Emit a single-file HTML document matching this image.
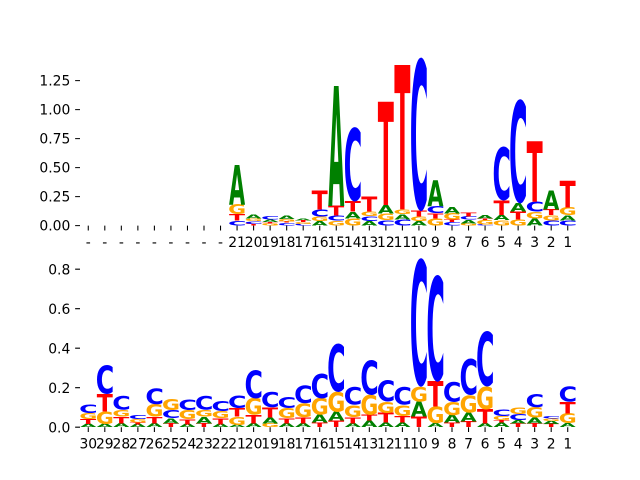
<!DOCTYPE html>
<html><head><meta charset="utf-8"><style>
html,body{margin:0;padding:0;background:#fff;}
svg{display:block;}
.a,.c,.g,.t{font-family:"DejaVu Sans","Liberation Sans",sans-serif;font-weight:bold;font-size:100px;}
.a{fill:#008000}.c{fill:#0000ff}.g{fill:#ffa500}.t{fill:#ff0000}
.lb{font-family:"DejaVu Sans","Liberation Sans",sans-serif;font-size:13.89px;fill:#000;}
</style></head><body>
<svg width="640" height="480" viewBox="0 0 640 480" xmlns="http://www.w3.org/2000/svg">
<rect width="640" height="480" fill="#fff"/>
<!-- ticks -->
<path stroke="#000" stroke-width="1.07" fill="none" d="
M88.27 225.6v4.86M104.8 225.6v4.86M121.33 225.6v4.86M137.87 225.6v4.86M154.4 225.6v4.86M170.93 225.6v4.86M187.47 225.6v4.86M204 225.6v4.86M220.53 225.6v4.86M237.07 225.6v4.86M253.6 225.6v4.86M270.13 225.6v4.86M286.67 225.6v4.86M303.2 225.6v4.86M319.73 225.6v4.86M336.27 225.6v4.86M352.8 225.6v4.86M369.33 225.6v4.86M385.87 225.6v4.86M402.4 225.6v4.86M418.93 225.6v4.86M435.47 225.6v4.86M452 225.6v4.86M468.53 225.6v4.86M485.07 225.6v4.86M501.6 225.6v4.86M518.13 225.6v4.86M534.67 225.6v4.86M551.2 225.6v4.86M567.73 225.6v4.86
M88.27 427.2v4.86M104.8 427.2v4.86M121.33 427.2v4.86M137.87 427.2v4.86M154.4 427.2v4.86M170.93 427.2v4.86M187.47 427.2v4.86M204 427.2v4.86M220.53 427.2v4.86M237.07 427.2v4.86M253.6 427.2v4.86M270.13 427.2v4.86M286.67 427.2v4.86M303.2 427.2v4.86M319.73 427.2v4.86M336.27 427.2v4.86M352.8 427.2v4.86M369.33 427.2v4.86M385.87 427.2v4.86M402.4 427.2v4.86M418.93 427.2v4.86M435.47 427.2v4.86M452 427.2v4.86M468.53 427.2v4.86M485.07 427.2v4.86M501.6 427.2v4.86M518.13 427.2v4.86M534.67 427.2v4.86M551.2 427.2v4.86M567.73 427.2v4.86
M75.14 225.6h4.86M75.14 196.6h4.86M75.14 167.6h4.86M75.14 138.6h4.86M75.14 109.6h4.86M75.14 80.6h4.86
M75.14 427.2h4.86M75.14 387.7h4.86M75.14 348.2h4.86M75.14 308.7h4.86M75.14 269.2h4.86"/>
<!-- y labels -->
<g class="lb" text-anchor="end">
<text x="70.3" y="230.7">0.00</text><text x="70.3" y="201.7">0.25</text><text x="70.3" y="172.7">0.50</text><text x="70.3" y="143.7">0.75</text><text x="70.3" y="114.7">1.00</text><text x="70.3" y="85.7">1.25</text>
<text x="70.3" y="432.3">0.0</text><text x="70.3" y="392.8">0.2</text><text x="70.3" y="353.3">0.4</text><text x="70.3" y="313.8">0.6</text><text x="70.3" y="274.3">0.8</text>
</g>
<!-- x labels top -->
<g class="lb" text-anchor="middle">
<text x="88.27" y="246.8">-</text><text x="104.8" y="246.8">-</text><text x="121.33" y="246.8">-</text><text x="137.87" y="246.8">-</text><text x="154.4" y="246.8">-</text><text x="170.93" y="246.8">-</text><text x="187.47" y="246.8">-</text><text x="204" y="246.8">-</text><text x="220.53" y="246.8">-</text>
<text x="237.07" y="246.8">21</text><text x="253.6" y="246.8">20</text><text x="270.13" y="246.8">19</text><text x="286.67" y="246.8">18</text><text x="303.2" y="246.8">17</text><text x="319.73" y="246.8">16</text><text x="336.27" y="246.8">15</text><text x="352.8" y="246.8">14</text><text x="369.33" y="246.8">13</text><text x="385.87" y="246.8">12</text><text x="402.4" y="246.8">11</text><text x="418.93" y="246.8">10</text><text x="435.47" y="246.8">9</text><text x="452" y="246.8">8</text><text x="468.53" y="246.8">7</text><text x="485.07" y="246.8">6</text><text x="501.6" y="246.8">5</text><text x="518.13" y="246.8">4</text><text x="534.67" y="246.8">3</text><text x="551.2" y="246.8">2</text><text x="567.73" y="246.8">1</text>
</g>
<!-- x labels bottom -->
<g class="lb" text-anchor="middle">
<text x="88.27" y="448.4">30</text><text x="104.8" y="448.4">29</text><text x="121.33" y="448.4">28</text><text x="137.87" y="448.4">27</text><text x="154.4" y="448.4">26</text><text x="170.93" y="448.4">25</text><text x="187.47" y="448.4">24</text><text x="204" y="448.4">23</text><text x="220.53" y="448.4">22</text>
<text x="237.07" y="448.4">21</text><text x="253.6" y="448.4">20</text><text x="270.13" y="448.4">19</text><text x="286.67" y="448.4">18</text><text x="303.2" y="448.4">17</text><text x="319.73" y="448.4">16</text><text x="336.27" y="448.4">15</text><text x="352.8" y="448.4">14</text><text x="369.33" y="448.4">13</text><text x="385.87" y="448.4">12</text><text x="402.4" y="448.4">11</text><text x="418.93" y="448.4">10</text><text x="435.47" y="448.4">9</text><text x="452" y="448.4">8</text><text x="468.53" y="448.4">7</text><text x="485.07" y="448.4">6</text><text x="501.6" y="448.4">5</text><text x="518.13" y="448.4">4</text><text x="534.67" y="448.4">3</text><text x="551.2" y="448.4">2</text><text x="567.73" y="448.4">1</text>
</g>

<!-- ===== TOP LOGO ===== -->
<!-- p21 -->
<svg x="229.22" y="220.7" width="15.71" height="4.9" viewBox="4.9 -74.2 62.3 75.6" preserveAspectRatio="none" overflow="visible"><text class="c">C</text></svg>
<svg x="229.22" y="214" width="15.71" height="6.7" viewBox="1 -72.9 66.7 72.9" preserveAspectRatio="none" overflow="visible"><text class="t">T</text></svg>
<svg x="229.22" y="204.3" width="15.71" height="9.7" viewBox="4.9 -74.2 71.7 75.6" preserveAspectRatio="none" overflow="visible"><text class="g">G</text></svg>
<svg x="229.22" y="165" width="15.71" height="39.3" viewBox="1 -72.9 75.4 72.9" preserveAspectRatio="none" overflow="visible"><text class="a">A</text></svg>
<!-- p20 -->
<svg x="245.75" y="223.9" width="15.71" height="1.7" viewBox="1 -72.9 66.7 72.9" preserveAspectRatio="none" overflow="visible"><text class="t">T</text></svg>
<svg x="245.75" y="221" width="15.71" height="2.9" viewBox="4.9 -74.2 62.3 75.6" preserveAspectRatio="none" overflow="visible"><text class="c">C</text></svg>
<svg x="245.75" y="218.6" width="15.71" height="2.4" viewBox="4.9 -74.2 71.7 75.6" preserveAspectRatio="none" overflow="visible"><text class="g">G</text></svg>
<svg x="245.75" y="214.6" width="15.71" height="4" viewBox="1 -72.9 75.4 72.9" preserveAspectRatio="none" overflow="visible"><text class="a">A</text></svg>
<!-- p19 -->
<svg x="262.28" y="223.3" width="15.71" height="2.3" viewBox="4.9 -74.2 71.7 75.6" preserveAspectRatio="none" overflow="visible"><text class="g">G</text></svg>
<svg x="262.28" y="222.1" width="15.71" height="1.2" viewBox="1 -72.9 66.7 72.9" preserveAspectRatio="none" overflow="visible"><text class="t">T</text></svg>
<svg x="262.28" y="219.8" width="15.71" height="2.3" viewBox="1 -72.9 75.4 72.9" preserveAspectRatio="none" overflow="visible"><text class="a">A</text></svg>
<svg x="262.28" y="216.7" width="15.71" height="3.1" viewBox="4.9 -74.2 62.3 75.6" preserveAspectRatio="none" overflow="visible"><text class="c">C</text></svg>
<!-- p18 -->
<svg x="278.82" y="222.7" width="15.71" height="2.9" viewBox="4.9 -74.2 62.3 75.6" preserveAspectRatio="none" overflow="visible"><text class="c">C</text></svg>
<svg x="278.82" y="221.5" width="15.71" height="1.2" viewBox="1 -72.9 66.7 72.9" preserveAspectRatio="none" overflow="visible"><text class="t">T</text></svg>
<svg x="278.82" y="219.2" width="15.71" height="2.3" viewBox="4.9 -74.2 71.7 75.6" preserveAspectRatio="none" overflow="visible"><text class="g">G</text></svg>
<svg x="278.82" y="215.7" width="15.71" height="3.5" viewBox="1 -72.9 75.4 72.9" preserveAspectRatio="none" overflow="visible"><text class="a">A</text></svg>
<!-- p17 -->
<svg x="295.35" y="223.9" width="15.71" height="1.7" viewBox="4.9 -74.2 62.3 75.6" preserveAspectRatio="none" overflow="visible"><text class="c">C</text></svg>
<svg x="295.35" y="222.1" width="15.71" height="1.8" viewBox="4.9 -74.2 71.7 75.6" preserveAspectRatio="none" overflow="visible"><text class="g">G</text></svg>
<svg x="295.35" y="220.4" width="15.71" height="1.7" viewBox="1 -72.9 66.7 72.9" preserveAspectRatio="none" overflow="visible"><text class="t">T</text></svg>
<svg x="295.35" y="218.3" width="15.71" height="2.1" viewBox="1 -72.9 75.4 72.9" preserveAspectRatio="none" overflow="visible"><text class="a">A</text></svg>
<!-- p16 -->
<svg x="311.88" y="221" width="15.71" height="4.6" viewBox="1 -72.9 75.4 72.9" preserveAspectRatio="none" overflow="visible"><text class="a">A</text></svg>
<svg x="311.88" y="216.7" width="15.71" height="4.3" viewBox="4.9 -74.2 71.7 75.6" preserveAspectRatio="none" overflow="visible"><text class="g">G</text></svg>
<svg x="311.88" y="209.4" width="15.71" height="7.3" viewBox="4.9 -74.2 62.3 75.6" preserveAspectRatio="none" overflow="visible"><text class="c">C</text></svg>
<svg x="311.88" y="190.8" width="15.71" height="18.6" viewBox="1 -72.9 66.7 72.9" preserveAspectRatio="none" overflow="visible"><text class="t">T</text></svg>
<!-- p15 -->
<svg x="328.42" y="220.7" width="15.71" height="4.9" viewBox="4.9 -74.2 71.7 75.6" preserveAspectRatio="none" overflow="visible"><text class="g">G</text></svg>
<svg x="328.42" y="215.7" width="15.71" height="5" viewBox="4.9 -74.2 62.3 75.6" preserveAspectRatio="none" overflow="visible"><text class="c">C</text></svg>
<svg x="328.42" y="206" width="15.71" height="9.7" viewBox="1 -72.9 66.7 72.9" preserveAspectRatio="none" overflow="visible"><text class="t">T</text></svg>
<svg x="328.42" y="86" width="15.71" height="120" viewBox="1 -72.9 75.4 72.9" preserveAspectRatio="none" overflow="visible"><text class="a">A</text></svg>
<!-- p14 -->
<svg x="344.95" y="218.3" width="15.71" height="7.3" viewBox="4.9 -74.2 71.7 75.6" preserveAspectRatio="none" overflow="visible"><text class="g">G</text></svg>
<svg x="344.95" y="211.7" width="15.71" height="6.6" viewBox="1 -72.9 75.4 72.9" preserveAspectRatio="none" overflow="visible"><text class="a">A</text></svg>
<svg x="344.95" y="201.2" width="15.71" height="10.5" viewBox="1 -72.9 66.7 72.9" preserveAspectRatio="none" overflow="visible"><text class="t">T</text></svg>
<svg x="344.95" y="126.7" width="15.71" height="74.5" viewBox="4.9 -74.2 62.3 75.6" preserveAspectRatio="none" overflow="visible"><text class="c">C</text></svg>
<!-- p13 -->
<svg x="361.48" y="221" width="15.71" height="4.6" viewBox="1 -72.9 75.4 72.9" preserveAspectRatio="none" overflow="visible"><text class="a">A</text></svg>
<svg x="361.48" y="216.3" width="15.71" height="4.7" viewBox="4.9 -74.2 62.3 75.6" preserveAspectRatio="none" overflow="visible"><text class="c">C</text></svg>
<svg x="361.48" y="211.7" width="15.71" height="4.6" viewBox="4.9 -74.2 71.7 75.6" preserveAspectRatio="none" overflow="visible"><text class="g">G</text></svg>
<svg x="361.48" y="196.6" width="15.71" height="15.1" viewBox="1 -72.9 66.7 72.9" preserveAspectRatio="none" overflow="visible"><text class="t">T</text></svg>
<!-- p12 -->
<svg x="378.02" y="220" width="15.71" height="5.6" viewBox="4.9 -74.2 62.3 75.6" preserveAspectRatio="none" overflow="visible"><text class="c">C</text></svg>
<svg x="378.02" y="213.3" width="15.71" height="6.7" viewBox="4.9 -74.2 71.7 75.6" preserveAspectRatio="none" overflow="visible"><text class="g">G</text></svg>
<svg x="378.02" y="205" width="15.71" height="8.3" viewBox="1 -72.9 75.4 72.9" preserveAspectRatio="none" overflow="visible"><text class="a">A</text></svg>
<svg x="378.02" y="101.7" width="15.71" height="103.3" viewBox="1 -72.9 66.7 72.9" preserveAspectRatio="none" overflow="visible"><text class="t">T</text></svg>
<!-- p11 -->
<svg x="394.55" y="219.3" width="15.71" height="6.3" viewBox="4.9 -74.2 62.3 75.6" preserveAspectRatio="none" overflow="visible"><text class="c">C</text></svg>
<svg x="394.55" y="214" width="15.71" height="5.3" viewBox="1 -72.9 75.4 72.9" preserveAspectRatio="none" overflow="visible"><text class="a">A</text></svg>
<svg x="394.55" y="209.4" width="15.71" height="4.6" viewBox="4.9 -74.2 71.7 75.6" preserveAspectRatio="none" overflow="visible"><text class="g">G</text></svg>
<svg x="394.55" y="65" width="15.71" height="144.4" viewBox="1 -72.9 66.7 72.9" preserveAspectRatio="none" overflow="visible"><text class="t">T</text></svg>
<!-- p10 -->
<svg x="411.08" y="221" width="15.71" height="4.6" viewBox="1 -72.9 75.4 72.9" preserveAspectRatio="none" overflow="visible"><text class="a">A</text></svg>
<svg x="411.08" y="216.7" width="15.71" height="4.3" viewBox="4.9 -74.2 71.7 75.6" preserveAspectRatio="none" overflow="visible"><text class="g">G</text></svg>
<svg x="411.08" y="211" width="15.71" height="5.7" viewBox="1 -72.9 66.7 72.9" preserveAspectRatio="none" overflow="visible"><text class="t">T</text></svg>
<svg x="411.08" y="57.6" width="15.71" height="153.4" viewBox="4.9 -74.2 62.3 75.6" preserveAspectRatio="none" overflow="visible"><text class="c">C</text></svg>
<!-- p9 -->
<svg x="427.62" y="218.3" width="15.71" height="7.3" viewBox="4.9 -74.2 71.7 75.6" preserveAspectRatio="none" overflow="visible"><text class="g">G</text></svg>
<svg x="427.62" y="213.3" width="15.71" height="5" viewBox="1 -72.9 66.7 72.9" preserveAspectRatio="none" overflow="visible"><text class="t">T</text></svg>
<svg x="427.62" y="206" width="15.71" height="7.3" viewBox="4.9 -74.2 62.3 75.6" preserveAspectRatio="none" overflow="visible"><text class="c">C</text></svg>
<svg x="427.62" y="180" width="15.71" height="26" viewBox="1 -72.9 75.4 72.9" preserveAspectRatio="none" overflow="visible"><text class="a">A</text></svg>
<!-- p8 -->
<svg x="444.15" y="222.1" width="15.71" height="3.5" viewBox="4.9 -74.2 62.3 75.6" preserveAspectRatio="none" overflow="visible"><text class="c">C</text></svg>
<svg x="444.15" y="219.8" width="15.71" height="2.3" viewBox="1 -72.9 66.7 72.9" preserveAspectRatio="none" overflow="visible"><text class="t">T</text></svg>
<svg x="444.15" y="213.4" width="15.71" height="6.4" viewBox="4.9 -74.2 71.7 75.6" preserveAspectRatio="none" overflow="visible"><text class="g">G</text></svg>
<svg x="444.15" y="206.7" width="15.71" height="6.7" viewBox="1 -72.9 75.4 72.9" preserveAspectRatio="none" overflow="visible"><text class="a">A</text></svg>
<!-- p7 -->
<svg x="460.68" y="223.3" width="15.71" height="2.3" viewBox="4.9 -74.2 71.7 75.6" preserveAspectRatio="none" overflow="visible"><text class="g">G</text></svg>
<svg x="460.68" y="219.8" width="15.71" height="3.5" viewBox="1 -72.9 75.4 72.9" preserveAspectRatio="none" overflow="visible"><text class="a">A</text></svg>
<svg x="460.68" y="216.7" width="15.71" height="3.1" viewBox="4.9 -74.2 62.3 75.6" preserveAspectRatio="none" overflow="visible"><text class="c">C</text></svg>
<svg x="460.68" y="212.8" width="15.71" height="3.9" viewBox="1 -72.9 66.7 72.9" preserveAspectRatio="none" overflow="visible"><text class="t">T</text></svg>
<!-- p6 -->
<svg x="477.22" y="224.4" width="15.71" height="1.2" viewBox="4.9 -74.2 62.3 75.6" preserveAspectRatio="none" overflow="visible"><text class="c">C</text></svg>
<svg x="477.22" y="219.8" width="15.71" height="4.6" viewBox="4.9 -74.2 71.7 75.6" preserveAspectRatio="none" overflow="visible"><text class="g">G</text></svg>
<svg x="477.22" y="218.3" width="15.71" height="1.5" viewBox="1 -72.9 66.7 72.9" preserveAspectRatio="none" overflow="visible"><text class="t">T</text></svg>
<svg x="477.22" y="215.2" width="15.71" height="3.1" viewBox="1 -72.9 75.4 72.9" preserveAspectRatio="none" overflow="visible"><text class="a">A</text></svg>
<!-- p5 -->
<svg x="493.75" y="220" width="15.71" height="5.6" viewBox="4.9 -74.2 71.7 75.6" preserveAspectRatio="none" overflow="visible"><text class="g">G</text></svg>
<svg x="493.75" y="215" width="15.71" height="5" viewBox="1 -72.9 75.4 72.9" preserveAspectRatio="none" overflow="visible"><text class="a">A</text></svg>
<svg x="493.75" y="200.7" width="15.71" height="14.3" viewBox="1 -72.9 66.7 72.9" preserveAspectRatio="none" overflow="visible"><text class="t">T</text></svg>
<svg x="493.75" y="146.7" width="15.71" height="54" viewBox="4.9 -74.2 62.3 75.6" preserveAspectRatio="none" overflow="visible"><text class="c">C</text></svg>
<!-- p4 -->
<svg x="510.28" y="219.3" width="15.71" height="6.3" viewBox="4.9 -74.2 71.7 75.6" preserveAspectRatio="none" overflow="visible"><text class="g">G</text></svg>
<svg x="510.28" y="211.7" width="15.71" height="7.6" viewBox="1 -72.9 66.7 72.9" preserveAspectRatio="none" overflow="visible"><text class="t">T</text></svg>
<svg x="510.28" y="203.3" width="15.71" height="8.4" viewBox="1 -72.9 75.4 72.9" preserveAspectRatio="none" overflow="visible"><text class="a">A</text></svg>
<svg x="510.28" y="99.3" width="15.71" height="104" viewBox="4.9 -74.2 62.3 75.6" preserveAspectRatio="none" overflow="visible"><text class="c">C</text></svg>
<!-- p3 -->
<svg x="526.82" y="218.6" width="15.71" height="7" viewBox="1 -72.9 75.4 72.9" preserveAspectRatio="none" overflow="visible"><text class="a">A</text></svg>
<svg x="526.82" y="211.7" width="15.71" height="6.9" viewBox="4.9 -74.2 71.7 75.6" preserveAspectRatio="none" overflow="visible"><text class="g">G</text></svg>
<svg x="526.82" y="201.7" width="15.71" height="10" viewBox="4.9 -74.2 62.3 75.6" preserveAspectRatio="none" overflow="visible"><text class="c">C</text></svg>
<svg x="526.82" y="141" width="15.71" height="60.7" viewBox="1 -72.9 66.7 72.9" preserveAspectRatio="none" overflow="visible"><text class="t">T</text></svg>
<!-- p2 -->
<svg x="543.35" y="220.4" width="15.71" height="5.2" viewBox="4.9 -74.2 62.3 75.6" preserveAspectRatio="none" overflow="visible"><text class="c">C</text></svg>
<svg x="543.35" y="215.2" width="15.71" height="5.2" viewBox="4.9 -74.2 71.7 75.6" preserveAspectRatio="none" overflow="visible"><text class="g">G</text></svg>
<svg x="543.35" y="209.4" width="15.71" height="5.8" viewBox="1 -72.9 66.7 72.9" preserveAspectRatio="none" overflow="visible"><text class="t">T</text></svg>
<svg x="543.35" y="190.7" width="15.71" height="18.7" viewBox="1 -72.9 75.4 72.9" preserveAspectRatio="none" overflow="visible"><text class="a">A</text></svg>
<!-- p1 -->
<svg x="559.88" y="220.4" width="15.71" height="5.2" viewBox="4.9 -74.2 62.3 75.6" preserveAspectRatio="none" overflow="visible"><text class="c">C</text></svg>
<svg x="559.88" y="215.2" width="15.71" height="5.2" viewBox="1 -72.9 75.4 72.9" preserveAspectRatio="none" overflow="visible"><text class="a">A</text></svg>
<svg x="559.88" y="207.3" width="15.71" height="7.9" viewBox="4.9 -74.2 71.7 75.6" preserveAspectRatio="none" overflow="visible"><text class="g">G</text></svg>
<svg x="559.88" y="180.7" width="15.71" height="26.6" viewBox="1 -72.9 66.7 72.9" preserveAspectRatio="none" overflow="visible"><text class="t">T</text></svg>

<!-- ===== BOTTOM LOGO ===== -->
<!-- p30 -->
<svg x="80.42" y="424" width="15.71" height="3.2" viewBox="1 -72.9 75.4 72.9" preserveAspectRatio="none" overflow="visible"><text class="a">A</text></svg>
<svg x="80.42" y="419" width="15.71" height="5" viewBox="1 -72.9 66.7 72.9" preserveAspectRatio="none" overflow="visible"><text class="t">T</text></svg>
<svg x="80.42" y="413.3" width="15.71" height="5.7" viewBox="4.9 -74.2 71.7 75.6" preserveAspectRatio="none" overflow="visible"><text class="g">G</text></svg>
<svg x="80.42" y="404.3" width="15.71" height="9" viewBox="4.9 -74.2 62.3 75.6" preserveAspectRatio="none" overflow="visible"><text class="c">C</text></svg>
<!-- p29 -->
<svg x="96.95" y="424.3" width="15.71" height="2.9" viewBox="1 -72.9 75.4 72.9" preserveAspectRatio="none" overflow="visible"><text class="a">A</text></svg>
<svg x="96.95" y="411.7" width="15.71" height="12.6" viewBox="4.9 -74.2 71.7 75.6" preserveAspectRatio="none" overflow="visible"><text class="g">G</text></svg>
<svg x="96.95" y="394" width="15.71" height="17.7" viewBox="1 -72.9 66.7 72.9" preserveAspectRatio="none" overflow="visible"><text class="t">T</text></svg>
<svg x="96.95" y="365" width="15.71" height="29" viewBox="4.9 -74.2 62.3 75.6" preserveAspectRatio="none" overflow="visible"><text class="c">C</text></svg>
<!-- p28 -->
<svg x="113.48" y="423.3" width="15.71" height="3.9" viewBox="1 -72.9 75.4 72.9" preserveAspectRatio="none" overflow="visible"><text class="a">A</text></svg>
<svg x="113.48" y="416.7" width="15.71" height="6.6" viewBox="1 -72.9 66.7 72.9" preserveAspectRatio="none" overflow="visible"><text class="t">T</text></svg>
<svg x="113.48" y="410" width="15.71" height="6.7" viewBox="4.9 -74.2 71.7 75.6" preserveAspectRatio="none" overflow="visible"><text class="g">G</text></svg>
<svg x="113.48" y="395.7" width="15.71" height="14.3" viewBox="4.9 -74.2 62.3 75.6" preserveAspectRatio="none" overflow="visible"><text class="c">C</text></svg>
<!-- p27 -->
<svg x="130.02" y="424.3" width="15.71" height="2.9" viewBox="1 -72.9 75.4 72.9" preserveAspectRatio="none" overflow="visible"><text class="a">A</text></svg>
<svg x="130.02" y="422.7" width="15.71" height="1.6" viewBox="1 -72.9 66.7 72.9" preserveAspectRatio="none" overflow="visible"><text class="t">T</text></svg>
<svg x="130.02" y="419.3" width="15.71" height="3.4" viewBox="4.9 -74.2 71.7 75.6" preserveAspectRatio="none" overflow="visible"><text class="g">G</text></svg>
<svg x="130.02" y="415" width="15.71" height="4.3" viewBox="4.9 -74.2 62.3 75.6" preserveAspectRatio="none" overflow="visible"><text class="c">C</text></svg>
<!-- p26 -->
<svg x="146.55" y="423.3" width="15.71" height="3.9" viewBox="1 -72.9 75.4 72.9" preserveAspectRatio="none" overflow="visible"><text class="a">A</text></svg>
<svg x="146.55" y="416.7" width="15.71" height="6.6" viewBox="1 -72.9 66.7 72.9" preserveAspectRatio="none" overflow="visible"><text class="t">T</text></svg>
<svg x="146.55" y="404.3" width="15.71" height="12.4" viewBox="4.9 -74.2 71.7 75.6" preserveAspectRatio="none" overflow="visible"><text class="g">G</text></svg>
<svg x="146.55" y="388.3" width="15.71" height="16" viewBox="4.9 -74.2 62.3 75.6" preserveAspectRatio="none" overflow="visible"><text class="c">C</text></svg>
<!-- p25 -->
<svg x="163.08" y="423.3" width="15.71" height="3.9" viewBox="1 -72.9 66.7 72.9" preserveAspectRatio="none" overflow="visible"><text class="t">T</text></svg>
<svg x="163.08" y="418.3" width="15.71" height="5" viewBox="1 -72.9 75.4 72.9" preserveAspectRatio="none" overflow="visible"><text class="a">A</text></svg>
<svg x="163.08" y="410" width="15.71" height="8.3" viewBox="4.9 -74.2 62.3 75.6" preserveAspectRatio="none" overflow="visible"><text class="c">C</text></svg>
<svg x="163.08" y="398.3" width="15.71" height="11.7" viewBox="4.9 -74.2 71.7 75.6" preserveAspectRatio="none" overflow="visible"><text class="g">G</text></svg>
<!-- p24 -->
<svg x="179.62" y="424.3" width="15.71" height="2.9" viewBox="1 -72.9 75.4 72.9" preserveAspectRatio="none" overflow="visible"><text class="a">A</text></svg>
<svg x="179.62" y="419.3" width="15.71" height="5" viewBox="1 -72.9 66.7 72.9" preserveAspectRatio="none" overflow="visible"><text class="t">T</text></svg>
<svg x="179.62" y="410" width="15.71" height="9.3" viewBox="4.9 -74.2 71.7 75.6" preserveAspectRatio="none" overflow="visible"><text class="g">G</text></svg>
<svg x="179.62" y="399.3" width="15.71" height="10.7" viewBox="4.9 -74.2 62.3 75.6" preserveAspectRatio="none" overflow="visible"><text class="c">C</text></svg>
<!-- p23 -->
<svg x="196.15" y="423.3" width="15.71" height="3.9" viewBox="1 -72.9 66.7 72.9" preserveAspectRatio="none" overflow="visible"><text class="t">T</text></svg>
<svg x="196.15" y="416.7" width="15.71" height="6.6" viewBox="1 -72.9 75.4 72.9" preserveAspectRatio="none" overflow="visible"><text class="a">A</text></svg>
<svg x="196.15" y="410" width="15.71" height="6.7" viewBox="4.9 -74.2 71.7 75.6" preserveAspectRatio="none" overflow="visible"><text class="g">G</text></svg>
<svg x="196.15" y="395.7" width="15.71" height="14.3" viewBox="4.9 -74.2 62.3 75.6" preserveAspectRatio="none" overflow="visible"><text class="c">C</text></svg>
<!-- p22 -->
<svg x="212.68" y="424.3" width="15.71" height="2.9" viewBox="1 -72.9 75.4 72.9" preserveAspectRatio="none" overflow="visible"><text class="a">A</text></svg>
<svg x="212.68" y="418.3" width="15.71" height="6" viewBox="1 -72.9 66.7 72.9" preserveAspectRatio="none" overflow="visible"><text class="t">T</text></svg>
<svg x="212.68" y="411" width="15.71" height="7.3" viewBox="4.9 -74.2 71.7 75.6" preserveAspectRatio="none" overflow="visible"><text class="g">G</text></svg>
<svg x="212.68" y="400.7" width="15.71" height="10.3" viewBox="4.9 -74.2 62.3 75.6" preserveAspectRatio="none" overflow="visible"><text class="c">C</text></svg>
<!-- p21 -->
<svg x="229.22" y="425" width="15.71" height="2.2" viewBox="1 -72.9 75.4 72.9" preserveAspectRatio="none" overflow="visible"><text class="a">A</text></svg>
<svg x="229.22" y="416.7" width="15.71" height="8.3" viewBox="4.9 -74.2 71.7 75.6" preserveAspectRatio="none" overflow="visible"><text class="g">G</text></svg>
<svg x="229.22" y="408.3" width="15.71" height="8.4" viewBox="1 -72.9 66.7 72.9" preserveAspectRatio="none" overflow="visible"><text class="t">T</text></svg>
<svg x="229.22" y="395.7" width="15.71" height="12.6" viewBox="4.9 -74.2 62.3 75.6" preserveAspectRatio="none" overflow="visible"><text class="c">C</text></svg>
<!-- p20 -->
<svg x="245.75" y="423.3" width="15.71" height="3.9" viewBox="1 -72.9 75.4 72.9" preserveAspectRatio="none" overflow="visible"><text class="a">A</text></svg>
<svg x="245.75" y="415" width="15.71" height="8.3" viewBox="1 -72.9 66.7 72.9" preserveAspectRatio="none" overflow="visible"><text class="t">T</text></svg>
<svg x="245.75" y="398.3" width="15.71" height="16.7" viewBox="4.9 -74.2 71.7 75.6" preserveAspectRatio="none" overflow="visible"><text class="g">G</text></svg>
<svg x="245.75" y="370" width="15.71" height="28.3" viewBox="4.9 -74.2 62.3 75.6" preserveAspectRatio="none" overflow="visible"><text class="c">C</text></svg>
<!-- p19 -->
<svg x="262.28" y="423.3" width="15.71" height="3.9" viewBox="4.9 -74.2 71.7 75.6" preserveAspectRatio="none" overflow="visible"><text class="g">G</text></svg>
<svg x="262.28" y="417.3" width="15.71" height="6" viewBox="1 -72.9 75.4 72.9" preserveAspectRatio="none" overflow="visible"><text class="a">A</text></svg>
<svg x="262.28" y="407.3" width="15.71" height="10" viewBox="1 -72.9 66.7 72.9" preserveAspectRatio="none" overflow="visible"><text class="t">T</text></svg>
<svg x="262.28" y="391.7" width="15.71" height="15.6" viewBox="4.9 -74.2 62.3 75.6" preserveAspectRatio="none" overflow="visible"><text class="c">C</text></svg>
<!-- p18 -->
<svg x="278.82" y="423.3" width="15.71" height="3.9" viewBox="1 -72.9 75.4 72.9" preserveAspectRatio="none" overflow="visible"><text class="a">A</text></svg>
<svg x="278.82" y="418.3" width="15.71" height="5" viewBox="1 -72.9 66.7 72.9" preserveAspectRatio="none" overflow="visible"><text class="t">T</text></svg>
<svg x="278.82" y="408.3" width="15.71" height="10" viewBox="4.9 -74.2 71.7 75.6" preserveAspectRatio="none" overflow="visible"><text class="g">G</text></svg>
<svg x="278.82" y="396.7" width="15.71" height="11.6" viewBox="4.9 -74.2 62.3 75.6" preserveAspectRatio="none" overflow="visible"><text class="c">C</text></svg>
<!-- p17 -->
<svg x="295.35" y="423.3" width="15.71" height="3.9" viewBox="1 -72.9 75.4 72.9" preserveAspectRatio="none" overflow="visible"><text class="a">A</text></svg>
<svg x="295.35" y="417.3" width="15.71" height="6" viewBox="1 -72.9 66.7 72.9" preserveAspectRatio="none" overflow="visible"><text class="t">T</text></svg>
<svg x="295.35" y="403.3" width="15.71" height="14" viewBox="4.9 -74.2 71.7 75.6" preserveAspectRatio="none" overflow="visible"><text class="g">G</text></svg>
<svg x="295.35" y="385" width="15.71" height="18.3" viewBox="4.9 -74.2 62.3 75.6" preserveAspectRatio="none" overflow="visible"><text class="c">C</text></svg>
<!-- p16 -->
<svg x="311.88" y="422.7" width="15.71" height="4.5" viewBox="1 -72.9 66.7 72.9" preserveAspectRatio="none" overflow="visible"><text class="t">T</text></svg>
<svg x="311.88" y="415" width="15.71" height="7.7" viewBox="1 -72.9 75.4 72.9" preserveAspectRatio="none" overflow="visible"><text class="a">A</text></svg>
<svg x="311.88" y="398.3" width="15.71" height="16.7" viewBox="4.9 -74.2 71.7 75.6" preserveAspectRatio="none" overflow="visible"><text class="g">G</text></svg>
<svg x="311.88" y="373.3" width="15.71" height="25" viewBox="4.9 -74.2 62.3 75.6" preserveAspectRatio="none" overflow="visible"><text class="c">C</text></svg>
<!-- p15 -->
<svg x="328.42" y="420.7" width="15.71" height="6.5" viewBox="1 -72.9 66.7 72.9" preserveAspectRatio="none" overflow="visible"><text class="t">T</text></svg>
<svg x="328.42" y="411.7" width="15.71" height="9" viewBox="1 -72.9 75.4 72.9" preserveAspectRatio="none" overflow="visible"><text class="a">A</text></svg>
<svg x="328.42" y="391.7" width="15.71" height="20" viewBox="4.9 -74.2 71.7 75.6" preserveAspectRatio="none" overflow="visible"><text class="g">G</text></svg>
<svg x="328.42" y="343.3" width="15.71" height="48.4" viewBox="4.9 -74.2 62.3 75.6" preserveAspectRatio="none" overflow="visible"><text class="c">C</text></svg>
<!-- p14 -->
<svg x="344.95" y="423.3" width="15.71" height="3.9" viewBox="1 -72.9 75.4 72.9" preserveAspectRatio="none" overflow="visible"><text class="a">A</text></svg>
<svg x="344.95" y="417.3" width="15.71" height="6" viewBox="1 -72.9 66.7 72.9" preserveAspectRatio="none" overflow="visible"><text class="t">T</text></svg>
<svg x="344.95" y="405" width="15.71" height="12.3" viewBox="4.9 -74.2 71.7 75.6" preserveAspectRatio="none" overflow="visible"><text class="g">G</text></svg>
<svg x="344.95" y="386.7" width="15.71" height="18.3" viewBox="4.9 -74.2 62.3 75.6" preserveAspectRatio="none" overflow="visible"><text class="c">C</text></svg>
<!-- p13 -->
<svg x="361.48" y="420.7" width="15.71" height="6.5" viewBox="1 -72.9 75.4 72.9" preserveAspectRatio="none" overflow="visible"><text class="a">A</text></svg>
<svg x="361.48" y="415" width="15.71" height="5.7" viewBox="1 -72.9 66.7 72.9" preserveAspectRatio="none" overflow="visible"><text class="t">T</text></svg>
<svg x="361.48" y="395" width="15.71" height="20" viewBox="4.9 -74.2 71.7 75.6" preserveAspectRatio="none" overflow="visible"><text class="g">G</text></svg>
<svg x="361.48" y="360" width="15.71" height="35" viewBox="4.9 -74.2 62.3 75.6" preserveAspectRatio="none" overflow="visible"><text class="c">C</text></svg>
<!-- p12 -->
<svg x="378.02" y="422.7" width="15.71" height="4.5" viewBox="1 -72.9 75.4 72.9" preserveAspectRatio="none" overflow="visible"><text class="a">A</text></svg>
<svg x="378.02" y="413.3" width="15.71" height="9.4" viewBox="1 -72.9 66.7 72.9" preserveAspectRatio="none" overflow="visible"><text class="t">T</text></svg>
<svg x="378.02" y="401.7" width="15.71" height="11.6" viewBox="4.9 -74.2 71.7 75.6" preserveAspectRatio="none" overflow="visible"><text class="g">G</text></svg>
<svg x="378.02" y="380" width="15.71" height="21.7" viewBox="4.9 -74.2 62.3 75.6" preserveAspectRatio="none" overflow="visible"><text class="c">C</text></svg>
<!-- p11 -->
<svg x="394.55" y="422.7" width="15.71" height="4.5" viewBox="1 -72.9 75.4 72.9" preserveAspectRatio="none" overflow="visible"><text class="a">A</text></svg>
<svg x="394.55" y="416" width="15.71" height="6.7" viewBox="1 -72.9 66.7 72.9" preserveAspectRatio="none" overflow="visible"><text class="t">T</text></svg>
<svg x="394.55" y="405" width="15.71" height="11" viewBox="4.9 -74.2 71.7 75.6" preserveAspectRatio="none" overflow="visible"><text class="g">G</text></svg>
<svg x="394.55" y="386.7" width="15.71" height="18.3" viewBox="4.9 -74.2 62.3 75.6" preserveAspectRatio="none" overflow="visible"><text class="c">C</text></svg>
<!-- p10 -->
<svg x="411.08" y="416.7" width="15.71" height="10.5" viewBox="1 -72.9 66.7 72.9" preserveAspectRatio="none" overflow="visible"><text class="t">T</text></svg>
<svg x="411.08" y="401.7" width="15.71" height="15" viewBox="1 -72.9 75.4 72.9" preserveAspectRatio="none" overflow="visible"><text class="a">A</text></svg>
<svg x="411.08" y="386.7" width="15.71" height="15" viewBox="4.9 -74.2 71.7 75.6" preserveAspectRatio="none" overflow="visible"><text class="g">G</text></svg>
<svg x="411.08" y="258.3" width="15.71" height="128.4" viewBox="4.9 -74.2 62.3 75.6" preserveAspectRatio="none" overflow="visible"><text class="c">C</text></svg>
<!-- p9 -->
<svg x="427.62" y="423.3" width="15.71" height="3.9" viewBox="1 -72.9 75.4 72.9" preserveAspectRatio="none" overflow="visible"><text class="a">A</text></svg>
<svg x="427.62" y="406.7" width="15.71" height="16.6" viewBox="4.9 -74.2 71.7 75.6" preserveAspectRatio="none" overflow="visible"><text class="g">G</text></svg>
<svg x="427.62" y="381.7" width="15.71" height="25" viewBox="1 -72.9 66.7 72.9" preserveAspectRatio="none" overflow="visible"><text class="t">T</text></svg>
<svg x="427.62" y="275" width="15.71" height="106.7" viewBox="4.9 -74.2 62.3 75.6" preserveAspectRatio="none" overflow="visible"><text class="c">C</text></svg>
<!-- p8 -->
<svg x="444.15" y="422.7" width="15.71" height="4.5" viewBox="1 -72.9 66.7 72.9" preserveAspectRatio="none" overflow="visible"><text class="t">T</text></svg>
<svg x="444.15" y="415" width="15.71" height="7.7" viewBox="1 -72.9 75.4 72.9" preserveAspectRatio="none" overflow="visible"><text class="a">A</text></svg>
<svg x="444.15" y="401.7" width="15.71" height="13.3" viewBox="4.9 -74.2 71.7 75.6" preserveAspectRatio="none" overflow="visible"><text class="g">G</text></svg>
<svg x="444.15" y="381.7" width="15.71" height="20" viewBox="4.9 -74.2 62.3 75.6" preserveAspectRatio="none" overflow="visible"><text class="c">C</text></svg>
<!-- p7 -->
<svg x="460.68" y="421.7" width="15.71" height="5.5" viewBox="1 -72.9 66.7 72.9" preserveAspectRatio="none" overflow="visible"><text class="t">T</text></svg>
<svg x="460.68" y="412.7" width="15.71" height="9" viewBox="1 -72.9 75.4 72.9" preserveAspectRatio="none" overflow="visible"><text class="a">A</text></svg>
<svg x="460.68" y="395" width="15.71" height="17.7" viewBox="4.9 -74.2 71.7 75.6" preserveAspectRatio="none" overflow="visible"><text class="g">G</text></svg>
<svg x="460.68" y="358.3" width="15.71" height="36.7" viewBox="4.9 -74.2 62.3 75.6" preserveAspectRatio="none" overflow="visible"><text class="c">C</text></svg>
<!-- p6 -->
<svg x="477.22" y="423.3" width="15.71" height="3.9" viewBox="1 -72.9 75.4 72.9" preserveAspectRatio="none" overflow="visible"><text class="a">A</text></svg>
<svg x="477.22" y="409.3" width="15.71" height="14" viewBox="1 -72.9 66.7 72.9" preserveAspectRatio="none" overflow="visible"><text class="t">T</text></svg>
<svg x="477.22" y="386.7" width="15.71" height="22.6" viewBox="4.9 -74.2 71.7 75.6" preserveAspectRatio="none" overflow="visible"><text class="g">G</text></svg>
<svg x="477.22" y="331.7" width="15.71" height="55" viewBox="4.9 -74.2 62.3 75.6" preserveAspectRatio="none" overflow="visible"><text class="c">C</text></svg>
<!-- p5 -->
<svg x="493.75" y="422.7" width="15.71" height="4.5" viewBox="1 -72.9 75.4 72.9" preserveAspectRatio="none" overflow="visible"><text class="a">A</text></svg>
<svg x="493.75" y="420" width="15.71" height="2.7" viewBox="1 -72.9 66.7 72.9" preserveAspectRatio="none" overflow="visible"><text class="t">T</text></svg>
<svg x="493.75" y="416" width="15.71" height="4" viewBox="4.9 -74.2 71.7 75.6" preserveAspectRatio="none" overflow="visible"><text class="g">G</text></svg>
<svg x="493.75" y="409.3" width="15.71" height="6.7" viewBox="4.9 -74.2 62.3 75.6" preserveAspectRatio="none" overflow="visible"><text class="c">C</text></svg>
<!-- p4 -->
<svg x="510.28" y="423.3" width="15.71" height="3.9" viewBox="1 -72.9 66.7 72.9" preserveAspectRatio="none" overflow="visible"><text class="t">T</text></svg>
<svg x="510.28" y="420" width="15.71" height="3.3" viewBox="1 -72.9 75.4 72.9" preserveAspectRatio="none" overflow="visible"><text class="a">A</text></svg>
<svg x="510.28" y="414" width="15.71" height="6" viewBox="4.9 -74.2 62.3 75.6" preserveAspectRatio="none" overflow="visible"><text class="c">C</text></svg>
<svg x="510.28" y="407.3" width="15.71" height="6.7" viewBox="4.9 -74.2 71.7 75.6" preserveAspectRatio="none" overflow="visible"><text class="g">G</text></svg>
<!-- p3 -->
<svg x="526.82" y="423.3" width="15.71" height="3.9" viewBox="1 -72.9 66.7 72.9" preserveAspectRatio="none" overflow="visible"><text class="t">T</text></svg>
<svg x="526.82" y="417.7" width="15.71" height="5.6" viewBox="1 -72.9 75.4 72.9" preserveAspectRatio="none" overflow="visible"><text class="a">A</text></svg>
<svg x="526.82" y="407.3" width="15.71" height="10.4" viewBox="4.9 -74.2 71.7 75.6" preserveAspectRatio="none" overflow="visible"><text class="g">G</text></svg>
<svg x="526.82" y="394" width="15.71" height="13.3" viewBox="4.9 -74.2 62.3 75.6" preserveAspectRatio="none" overflow="visible"><text class="c">C</text></svg>
<!-- p2 -->
<svg x="543.35" y="424" width="15.71" height="3.2" viewBox="1 -72.9 66.7 72.9" preserveAspectRatio="none" overflow="visible"><text class="t">T</text></svg>
<svg x="543.35" y="421" width="15.71" height="3" viewBox="1 -72.9 75.4 72.9" preserveAspectRatio="none" overflow="visible"><text class="a">A</text></svg>
<svg x="543.35" y="418.5" width="15.71" height="2.5" viewBox="4.9 -74.2 71.7 75.6" preserveAspectRatio="none" overflow="visible"><text class="g">G</text></svg>
<svg x="543.35" y="416" width="15.71" height="2.5" viewBox="4.9 -74.2 62.3 75.6" preserveAspectRatio="none" overflow="visible"><text class="c">C</text></svg>
<!-- p1 -->
<svg x="559.88" y="423.3" width="15.71" height="3.9" viewBox="1 -72.9 75.4 72.9" preserveAspectRatio="none" overflow="visible"><text class="a">A</text></svg>
<svg x="559.88" y="413.3" width="15.71" height="10" viewBox="4.9 -74.2 71.7 75.6" preserveAspectRatio="none" overflow="visible"><text class="g">G</text></svg>
<svg x="559.88" y="401.7" width="15.71" height="11.6" viewBox="1 -72.9 66.7 72.9" preserveAspectRatio="none" overflow="visible"><text class="t">T</text></svg>
<svg x="559.88" y="386" width="15.71" height="15.7" viewBox="4.9 -74.2 62.3 75.6" preserveAspectRatio="none" overflow="visible"><text class="c">C</text></svg>
</svg>
</body></html>
